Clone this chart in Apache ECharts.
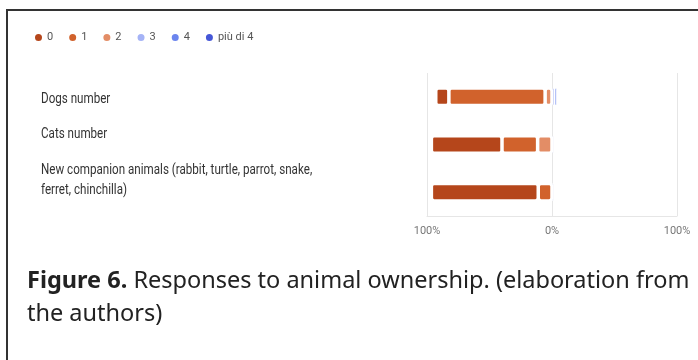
<!DOCTYPE html>
<html>
<head>
<meta charset="utf-8">
<style>
  html, body { margin: 0; padding: 0; background: #ffffff; }
  #chart { width: 698px; height: 360px; }
</style>
<script src="https://cdn.jsdelivr.net/npm/echarts@6/dist/echarts.min.js"></script>
</head>
<body>
<div id="chart"></div>
<script>
// Questions (rows) and answer groups (number of animals owned)
const categories = [
  'Dogs number',
  'Cats number',
  'New companion animals (rabbit, turtle, parrot, snake,\nferret, chinchilla)'
];
const answerNames = ['0', '1', '2', '3', '4', 'più di 4'];

// Share of responses per answer, in percent
const v0 = [10.5, 56.5, 85.5];
const v1 = [77, 28.5, 11];
const v2 = [5.5, 11.5, 0];
const v3 = [2, 1.8, 1.8];
const v4 = [2.2, 0, 0];
const v5 = [0, 0, 0];

const tickValues = [-100, 0, 100];

const colors = ['#b5461b', '#d1622c', '#e38d66', '#a5b3f6', '#6b85ee', '#4557d7'];

// Answers 0–2 diverge to the left, 3 and above to the right
const values = [v0, v1, v2, v3, v4, v5];
const leftSide = [true, true, true, false, false, false];

// Stacking order: segments closest to the centre line come first
const order = [2, 1, 0, 3, 4, 5];

const series = order.map(function (i) {
  return {
    name: answerNames[i],
    type: 'bar',
    stack: 'total',
    barWidth: 17.5,
    itemStyle: {
      color: colors[i],
      borderColor: '#ffffff',
      // the thin right-hand segments get a lighter outline so they stay visible
      borderWidth: leftSide[i] ? 1.75 : 1,
      borderRadius: 2
    },
    data: values[i].map(function (v) { return leftSide[i] ? -v : v; })
  };
});

const chart = echarts.init(document.getElementById('chart'), null, { renderer: 'canvas' });

const labelFont = 'Roboto, "Noto Sans", sans-serif';
const rowLabelY = [99, 134, 180];

const rowLabels = categories.map(function (name, k) {
  return {
    type: 'text',
    x: 41,
    y: rowLabelY[k],
    scaleX: 0.83,
    silent: true,
    style: {
      text: name,
      font: '14px ' + labelFont,
      fill: '#333333',
      lineHeight: 20,
      verticalAlign: 'middle',
      align: 'left'
    }
  };
});

chart.setOption({
  animation: false,
  backgroundColor: '#ffffff',
  color: colors,
  legend: {
    data: answerNames,
    left: 28,
    top: 27,
    icon: 'circle',
    itemWidth: 9,
    itemHeight: 9,
    itemGap: 14,
    textStyle: { fontFamily: labelFont, fontSize: 11, color: '#555555', padding: [0, 0, 0, -1] }
  },
  grid: { left: 427, right: 21, top: 73, bottom: 144 },
  xAxis: {
    type: 'value',
    min: tickValues[0],
    max: tickValues[tickValues.length - 1],
    interval: 100,
    axisLine: { show: true, lineStyle: { color: '#e6e6e6', width: 1 } },
    axisTick: { show: false },
    splitLine: { show: true, lineStyle: { color: '#e6e6e6', width: 1 } },
    axisLabel: {
      margin: 10,
      fontFamily: labelFont,
      fontSize: 11,
      color: '#777777',
      formatter: function (v) { return Math.abs(v) + '%'; }
    }
  },
  yAxis: {
    type: 'category',
    data: categories,
    inverse: true,
    axisLine: { show: false },
    axisTick: { show: false },
    axisLabel: { show: false },
    splitLine: { show: false }
  },
  series: series,
  graphic: [
    {
      type: 'rect',
      silent: true,
      shape: { x: 7, y: 10, width: 760, height: 420 },
      style: { fill: 'none', stroke: '#333333', lineWidth: 2 }
    }
  ].concat(rowLabels).concat([
    {
      type: 'text',
      x: 27,
      y: 298,
      silent: true,
      style: {
        text: '{b|Figure 6.} Responses to animal ownership. (elaboration from\nthe authors)',
        font: '23.5px "Noto Sans", sans-serif',
        fill: '#222222',
        lineHeight: 33,
        verticalAlign: 'middle',
        rich: {
          b: { fontWeight: 'bold', fontSize: 23.5, fontFamily: '"Noto Sans", sans-serif', fill: '#222222' }
        }
      }
    }
  ])
});
</script>
</body>
</html>
